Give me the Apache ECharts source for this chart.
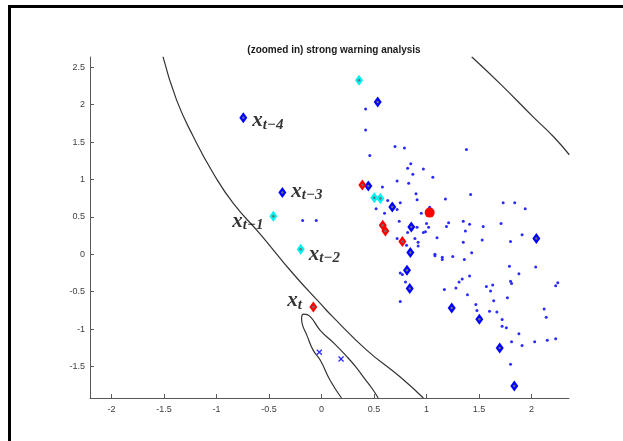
<!DOCTYPE html>
<html>
<head>
<meta charset="utf-8">
<script src="https://cdn.jsdelivr.net/npm/echarts@6/dist/echarts.min.js"></script>
<style>
  html, body { margin: 0; padding: 0; background: #fff; }
  #wrap { position: relative; width: 623px; height: 441px; }
  #chart { width: 623px; height: 441px; }
  #frame {
    position: absolute; left: 8px; top: 5px; right: 0; bottom: 0;
    border-left: 3px solid #000; border-top: 3px solid #000;
    pointer-events: none;
  }
</style>
</head>
<body>
<div id="wrap">
  <div id="chart"></div>
  <div id="frame"></div>
</div>
<script>
const titleText = '(zoomed in) strong warning analysis'
const xTicks = [-2, -1.5, -1, -0.5, 0, 0.5, 1, 1.5, 2]
const yTicks = [-1.5, -1, -0.5, 0, 0.5, 1, 1.5, 2, 2.5]

// contour lines
const contourOuter = [
  [-1.51, 2.64], [-1.38, 2.06], [-1.22, 1.57], [-1.03, 1.08], [-0.84, 0.68],
  [-0.59, 0.28], [-0.27, -0.26], [-0.01, -0.66], [0.11, -0.84], [0.43, -1.28],
  [0.75, -1.64], [0.97, -1.92]
]
const contourInner = [
  [0.19, -1.92], [0.08, -1.68], [-0.01, -1.42], [-0.08, -1.28], [-0.14, -1.08],
  [-0.18, -0.95], [-0.19, -0.86], [-0.17, -0.80], [-0.11, -0.83], [-0.01, -1.02],
  [0.12, -1.19], [0.23, -1.35], [0.33, -1.51], [0.41, -1.66], [0.48, -1.79],
  [0.54, -1.92]
]
const contourUpper = [
  [1.43, 2.64], [1.70, 2.28], [2.02, 1.83], [2.21, 1.57], [2.36, 1.33]
]

const blueDots = [
  [0.42, 1.94], [0.42, 1.66], [0.70, 1.44], [0.79, 1.42], [1.38, 1.40], [0.46, 1.32],
  [0.85, 1.21], [0.82, 1.15], [0.97, 1.14], [0.87, 1.07], [1.06, 1.03], [0.72, 0.98],
  [0.83, 0.95], [0.58, 0.90], [0.90, 0.81], [1.42, 0.80], [1.18, 0.74], [0.91, 0.73],
  [1.73, 0.69], [1.84, 0.69], [1.94, 0.61], [0.63, 0.72], [0.75, 0.69], [1.03, 0.63],
  [0.52, 0.61], [0.60, 0.55], [0.72, 0.60], [0.95, 0.55],
  [0.74, 0.44], [0.91, 0.36], [1.00, 0.41], [1.02, 0.36], [0.99, 0.30], [0.97, 0.29],
  [0.82, 0.29], [1.10, 0.22], [0.89, 0.21], [0.92, 0.16], [0.92, 0.11], [0.72, 0.21],
  [0.81, 0.12], [1.21, 0.42], [1.19, 0.37], [1.35, 0.44], [1.37, 0.31], [1.08, 0.00],
  [1.15, -0.04], [1.25, -0.03], [1.35, 0.16], [1.08, -0.02], [1.15, -0.07],
  [1.41, 0.40], [1.54, 0.37], [1.71, 0.41], [1.53, 0.19], [1.80, 0.17], [1.91, 0.26],
  [1.36, -0.07], [1.43, 0.02], [0.75, -0.25], [0.77, -0.27], [0.80, -0.37], [0.75, -0.63],
  [1.17, -0.47], [1.28, -0.45], [1.31, -0.37], [1.34, -0.33], [1.41, -0.29], [1.39, -0.54],
  [1.57, -0.43], [1.61, -0.49], [1.63, -0.41], [1.64, -0.62], [1.77, -0.58], [1.79, -0.16],
  [1.88, -0.26], [1.80, -0.36], [1.81, -0.39], [2.04, -0.17], [2.23, -0.42], [2.25, -0.38],
  [1.47, -0.67], [1.48, -0.75], [1.60, -0.76], [1.67, -0.77], [1.72, -0.87], [1.72, -0.96],
  [1.76, -0.98], [1.88, -1.06], [1.81, -1.17], [1.91, -1.22], [2.03, -1.17], [2.15, -1.15],
  [2.23, -1.13], [2.12, -0.73], [2.14, -0.84], [1.80, -1.47],
  [-0.18, 0.45], [-0.05, 0.45]
]
const blueDiamonds = [
  [-0.745, 1.826], [-0.373, 0.824], [0.535, 2.035], [0.446, 0.913], [0.674, 0.632],
  [0.855, 0.365], [0.846, 0.023], [0.814, -0.214], [0.840, -0.458], [1.240, -0.717],
  [1.503, -0.868], [1.697, -1.252], [1.836, -1.759], [2.046, 0.210]
]
const cyanDiamonds = [
  [0.357, 2.325], [-0.459, 0.508], [-0.198, 0.067], [0.503, 0.757], [0.560, 0.744]
]
const redDiamonds = [
  [0.389, 0.926], [0.583, 0.387], [0.608, 0.311], [0.770, 0.170], [-0.078, -0.704]
]
const redCircles = [[1.030, 0.557]]
const blueCrosses = [[-0.021, -1.309], [0.186, -1.399]]

const labelSubs = ['t\u22124', 't\u22123', 't\u22122', 't\u22121', 't']
const labelPoints = [blueDiamonds[0], blueDiamonds[1], cyanDiamonds[2], cyanDiamonds[1], redDiamonds[4]]
// pixel offsets of each label from its point
const labelOffsets = [[9, 3], [9, -1], [8, 5], [-41, 5], [-26, -6]]

const chart = echarts.init(document.getElementById('chart'))

const DIAMOND = [8, 11]
const CROSS = 'path://M0,1.5L1.5,0L5,3.5L8.5,0L10,1.5L6.5,5L10,8.5L8.5,10L5,6.5L1.5,10L0,8.5L3.5,5Z'

function markers(data, color, symbol, size) {
  return {
    type: 'scatter',
    data,
    symbol,
    symbolSize: size,
    itemStyle: { color, opacity: 1 },
    silent: true,
    z: 3,
  }
}

function contour(data) {
  return {
    type: 'line',
    data,
    smooth: true,
    showSymbol: false,
    lineStyle: { color: '#333333', width: 1.2 },
    silent: true,
    z: 2,
  }
}

const diamondCentres = blueDiamonds.concat(cyanDiamonds, redDiamonds)

chart.setOption({
  animation: false,
  title: {
    text: titleText,
    left: 329,
    textAlign: 'center',
    top: 40,
    textStyle: { fontFamily: 'Liberation Sans', fontSize: 10, fontWeight: 'bold', color: '#1a1a1a' },
  },
  grid: { left: 90, right: 54, top: 57, bottom: 43 },
  xAxis: {
    type: 'value',
    min: -2.205,
    max: 2.357,
    axisLine: { show: true, onZero: false, lineStyle: { color: '#595959', width: 1 } },
    axisTick: { show: true, inside: true, length: 4, customValues: xTicks, lineStyle: { color: '#595959' } },
    axisLabel: { customValues: xTicks, color: '#404040', fontSize: 9, margin: 7, fontFamily: 'Liberation Sans' },
    splitLine: { show: false },
  },
  yAxis: {
    type: 'value',
    min: -1.92,
    max: 2.636,
    axisLine: { show: true, onZero: false, lineStyle: { color: '#595959', width: 1 } },
    axisTick: { show: true, inside: true, length: 4, customValues: yTicks, lineStyle: { color: '#595959' } },
    axisLabel: { customValues: yTicks, color: '#404040', fontSize: 9, margin: 5, fontFamily: 'Liberation Sans' },
    splitLine: { show: false },
  },
  series: [
    contour(contourOuter),
    contour(contourInner),
    contour(contourUpper),
    markers(blueDots, '#2b2bff', 'circle', 3),
    markers(blueDiamonds, '#0000ff', 'diamond', DIAMOND),
    markers(cyanDiamonds, '#00f0f0', 'diamond', DIAMOND),
    markers(redDiamonds, '#ff0000', 'diamond', DIAMOND),
    markers(redCircles, '#ff0000', 'circle', 10),
    markers(blueCrosses, '#2b2bff', CROSS, 6),
    // grey centre dot seen on each diamond
    { ...markers(diamondCentres, '#707070', 'circle', 2.5), z: 4 },
    {
      type: 'scatter',
      silent: true,
      z: 5,
      symbol: 'circle',
      symbolSize: 0.1,
      itemStyle: { color: 'rgba(0,0,0,0)' },
      data: labelPoints.map((p, i) => ({
        value: p,
        label: {
          show: true,
          position: 'inside',
          align: 'left',
          verticalAlign: 'middle',
          offset: labelOffsets[i],
          formatter: '{x|x}{s|' + labelSubs[i] + '}',
          rich: {
            x: { fontFamily: 'Liberation Serif', fontStyle: 'italic', fontWeight: 'bold', fontSize: 21, color: '#000', lineHeight: 20 },
            s: { fontFamily: 'Liberation Serif', fontStyle: 'italic', fontWeight: 'bold', fontSize: 15, color: '#000', padding: [8, 0, 0, 0] },
          },
        },
      })),
    },
  ],
})
</script>
</body>
</html>
